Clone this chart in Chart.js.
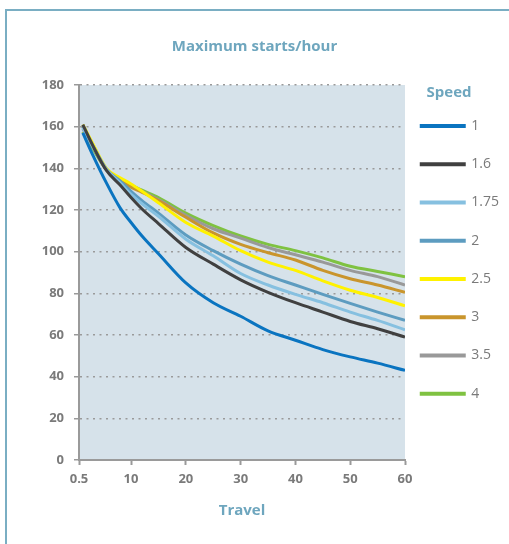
<!DOCTYPE html>
<html>
<head>
<meta charset="utf-8">
<script src="https://cdn.jsdelivr.net/npm/chart.js@4.4.1/dist/chart.umd.min.js"></script>
<style>
  html, body { margin: 0; padding: 0; background: #fff; overflow: hidden; }
  #frame { position: absolute; left: 5px; top: 9px; width: 600px; height: 600px; border: 2px solid #7aaec3; }
  #wrap { position: absolute; left: 0; top: 0; width: 509px; height: 544px; }
</style>
</head>
<body>
<div id="frame"></div>
<div id="wrap"><canvas id="startsChart" width="509" height="544"></canvas></div>
<script>
// travel values (x) shared by every speed curve
const travel = [1.2, 3, 5.5, 8, 10, 12, 15, 20, 25, 30, 35, 40, 45, 50, 55, 60];

const speed1    = [157, 146.5, 133, 121, 114, 107.5, 99, 85, 75.5, 69, 62, 57.5, 53, 49.5, 46.5, 43];
const speed16   = [161, 151, 139, 132, 126, 120.5, 113.5, 102, 94, 86.5, 80.5, 75.5, 71, 66.5, 63, 59];
const speed175  = [159.5, 150.5, 139.5, 133, 127.5, 123, 117, 106, 98, 89.5, 84, 79.5, 75.5, 71, 67, 62.5];
const speed2    = [160, 151, 139.5, 134, 129, 124.5, 118.5, 108, 100.5, 94, 88.5, 84, 79.5, 75.2, 71, 67];
const speed25   = [161, 152, 140, 135.5, 132.5, 129, 123.5, 114, 107.5, 100.5, 95, 91, 86, 81.5, 78, 74];
const speed3    = [160, 151, 139.5, 134.5, 131, 128.5, 124.5, 116.5, 109, 103.5, 99.5, 96, 91, 87, 84, 80.5];
const speed35   = [159, 150.5, 139.5, 134.5, 131.5, 129, 125, 117.5, 111, 106.5, 102, 98.5, 95, 91, 88, 84];
const speed4    = [157.5, 149.5, 139.5, 134.5, 132, 129.5, 126, 118.5, 112.5, 107.5, 103.5, 100.5, 97, 93, 90.5, 88];

const speedLabels = ['1', '1.6', '1.75', '2', '2.5', '3', '3.5', '4'];
const speedSeries = [speed1, speed16, speed175, speed2, speed25, speed3, speed35, speed4];
const speedColors = ['#0a74c0', '#404040', '#86c0e0', '#5d9cc0', '#fff200', '#c9952c', '#999999', '#7fc241'];

const xTicks = [0.5, 10, 20, 30, 40, 50, 60];

const labelColor = '#6ea6be';
const tickColor = '#7a7a7a';
const axisColor = '#9a9a9a';

// light plot background
const plotBackground = {
    id: 'plotBackground',
    beforeDraw: function(chart) {
        const a = chart.chartArea;
        const ctx = chart.ctx;
        ctx.save();
        ctx.fillStyle = '#d6e2ea';
        ctx.fillRect(a.left, a.top, a.right - a.left, a.bottom - a.top);
        ctx.restore();
    }
};

// legend sits a little left of the chart edge in the original
const legendNudge = {
    id: 'legendNudge',
    afterLayout: function(chart) {
        chart.legend.left -= 8;
        chart.legend.right -= 8;
    }
};

const ctx = document.getElementById('startsChart').getContext('2d');
new Chart(ctx, {
    type: 'line',
    data: {
        datasets: speedSeries.map(function(series, i) {
            return {
                label: speedLabels[i],
                data: series.map(function(v, j) { return {x: travel[j], y: v}; }),
                borderColor: speedColors[i],
                backgroundColor: speedColors[i],
                borderWidth: 3,
                pointRadius: 0,
                cubicInterpolationMode: 'monotone',
                fill: false
            };
        })
    },
    options: {
        responsive: false,
        animation: false,
        layout: { padding: { left: 0, right: 0, top: 0, bottom: 0 } },
        plugins: {
            title: {
                display: true,
                text: 'Maximum starts/hour',
                color: labelColor,
                font: { family: 'Open Sans', size: 15, weight: 'bold' },
                padding: { top: 38, bottom: 29 }
            },
            legend: {
                position: 'right',
                align: 'start',
                fullSize: false,
                maxWidth: 104,
                title: {
                    display: true,
                    text: 'Speed',
                    position: 'center',
                    color: labelColor,
                    font: { family: 'Open Sans', size: 15, weight: 'bold' },
                    padding: { top: 0, bottom: -8.25 }
                },
                labels: {
                    boxWidth: 43,
                    boxHeight: 1,
                    padding: 24.25,
                    color: tickColor,
                    font: { family: 'Open Sans', size: 14 }
                }
            },
            tooltip: { enabled: false }
        },
        scales: {
            x: {
                type: 'linear',
                min: 0.5,
                max: 60,
                afterFit: function(scale) { scale.height = 84; },
                afterBuildTicks: function(scale) {
                    scale.ticks = xTicks.map(function(v) { return {value: v}; });
                },
                grid: {
                    drawOnChartArea: false,
                    drawTicks: true,
                    tickLength: 5,
                    tickColor: axisColor,
                    tickWidth: 2
                },
                border: { display: true, color: axisColor, width: 2 },
                ticks: {
                    color: tickColor,
                    padding: 6,
                    maxRotation: 0,
                    font: { family: 'Open Sans', size: 13, weight: 'bold' },
                    callback: function(v) { return String(v); }
                },
                title: {
                    display: true,
                    text: 'Travel',
                    color: labelColor,
                    font: { family: 'Open Sans', size: 15, weight: 'bold' },
                    padding: { top: 10, bottom: 24 }
                }
            },
            y: {
                min: 0,
                max: 180,
                afterFit: function(scale) { scale.width = 79; },
                ticks: {
                    stepSize: 20,
                    color: tickColor,
                    padding: 10,
                    font: { family: 'Open Sans', size: 13, weight: 'bold' }
                },
                grid: {
                    color: axisColor,
                    lineWidth: 1.5,
                    tickLength: 5,
                    tickColor: axisColor,
                    tickWidth: 1.5,
                    tickBorderDash: []
                },
                border: { display: true, color: axisColor, width: 2, dash: [2, 4.5] }
            }
        }
    },
    plugins: [plotBackground, legendNudge]
});
</script>
</body>
</html>
